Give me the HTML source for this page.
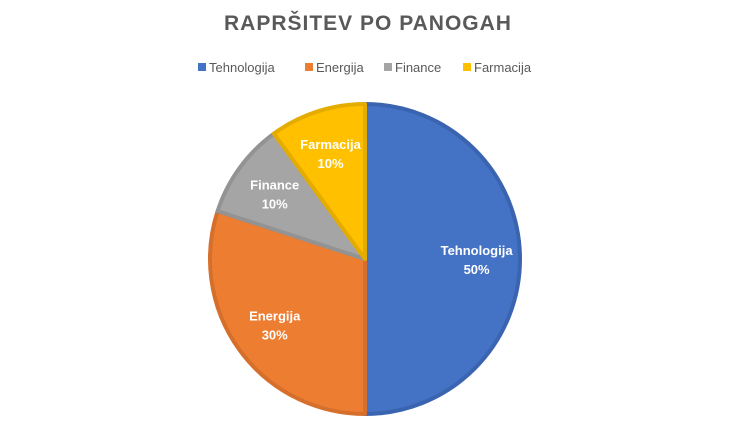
<!DOCTYPE html>
<html><head><meta charset="utf-8"><style>
body{margin:0;background:#fff;width:736px;height:435px;overflow:hidden;font-family:"Liberation Sans",sans-serif}
</style></head><body>
<svg width="736" height="435">
<text x="368" y="30" text-anchor="middle" font-size="21" font-weight="bold" fill="#595959" letter-spacing="1">RAPRŠITEV PO PANOGAH</text>
<g id="legend"></g>
<g id="slices"></g>
<g id="labels"></g>
</svg>
<script>
const categories = ["Tehnologija","Energija","Finance","Farmacija"];
const values = [50,30,10,10];
const colors = ["#4472C4","#ED7D31","#A5A5A5","#FFC000"];
const borders = ["#3A64AF","#D56F2B","#939393","#E5AC00"];
const NS="http://www.w3.org/2000/svg";
const cx=365, cy=259, r=155;
const total=values.reduce((a,b)=>a+b,0);
const sl=document.getElementById('slices'), lb=document.getElementById('labels'), lg=document.getElementById('legend');
function pt(f,rad){const a=f*2*Math.PI;return [cx+rad*Math.sin(a), cy-rad*Math.cos(a)];}
let acc=0;
values.forEach((v,i)=>{
  const f0=acc/total, f1=(acc+v)/total; acc+=v;
  const [x0,y0]=pt(f0,r),[x1,y1]=pt(f1,r);
  const large=(f1-f0)>0.5?1:0;
  const p=document.createElementNS(NS,'path');
  p.setAttribute('d',`M${cx},${cy} L${x0},${y0} A${r},${r} 0 ${large} 1 ${x1},${y1} Z`);
  p.setAttribute('fill',colors[i]);p.setAttribute('stroke',borders[i]);p.setAttribute('stroke-width','4');p.setAttribute('stroke-linejoin','round');
  
  
  sl.appendChild(p);
  const [lx,ly]=pt((f0+f1)/2, r*0.72);
  const t=document.createElementNS(NS,'text');
  t.setAttribute('x',lx);t.setAttribute('text-anchor','middle');t.setAttribute('font-size','13');t.setAttribute('font-weight','bold');t.setAttribute('fill','#fff');
  
  
  const a=document.createElementNS(NS,'tspan');a.setAttribute('x',lx);a.setAttribute('y',ly-4);a.textContent=categories[i];
  const b=document.createElementNS(NS,'tspan');b.setAttribute('x',lx);b.setAttribute('y',ly+15);b.textContent=Math.round(v/total*100)+'%';
  t.appendChild(a);t.appendChild(b);lb.appendChild(t);
});
const legX=[198,305,384,463];
categories.forEach((c,i)=>{
  const g=document.createElementNS(NS,'g');
  
  
  const s=document.createElementNS(NS,'rect');s.setAttribute('x',legX[i]);s.setAttribute('y',63);s.setAttribute('width',8);s.setAttribute('height',8);s.setAttribute('fill',colors[i]);
  const t=document.createElementNS(NS,'text');t.setAttribute('x',legX[i]+11);t.setAttribute('y',72);t.setAttribute('font-size','13');t.setAttribute('fill','#595959');t.textContent=c;
  g.appendChild(s);g.appendChild(t);lg.appendChild(g);
});
</script>
</body></html>
